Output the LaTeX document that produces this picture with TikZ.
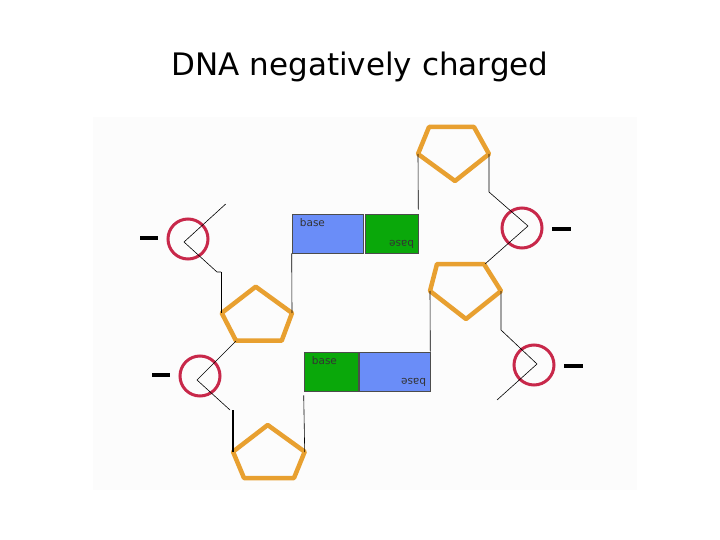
\documentclass[tikz,border=0pt]{standalone}
\usepackage{fontspec}
\setmainfont{DejaVu Sans}
\definecolor{pent}{HTML}{E8A030}
\definecolor{ring}{HTML}{C8284A}
\definecolor{bblue}{HTML}{6A8DF8}
\definecolor{bgreen}{HTML}{0AA80A}
\begin{document}
\begin{tikzpicture}[x=1pt,y=-1pt,
 pent/.style={draw=pent,line width=4.5pt,line join=round},
 ring/.style={draw=ring,line width=3pt},
 bbox/.style={draw=black!70,line width=0.6pt,minimum width=#1,minimum height=39pt,inner sep=0pt},
 thin/.style={line width=0.6pt},
 minus/.style={line width=4pt},
 lbl/.style={font=\fontsize{10.5}{10.5}\selectfont,inner sep=0pt,text=black!80}]
\useasboundingbox (0,0) rectangle (720,540);
\fill[black!1] (93,117) rectangle (637,490);
\node[font=\fontsize{31}{31}\selectfont] (title) at (360,67) {DNA negatively charged};
% pentagons
\draw[pent] (255.7,286.7) -- (292,313) -- (281.7,340.7) -- (236,340.7) -- (221.7,313) -- cycle;
\draw[pent] (267.7,425) -- (304.7,451.7) -- (294,478) -- (244,478) -- (233,451.7) -- cycle;
\draw[pent] (429,127) -- (474,127) -- (489,154) -- (455,181) -- (418,154) -- cycle;
\draw[pent] (437,264) -- (484,264) -- (501,291) -- (466,319) -- (430,291) -- cycle;
% circles
\node[ring,circle,minimum size=40pt,inner sep=0pt] (c1) at (188,239) {};
\node[ring,circle,minimum size=40pt,inner sep=0pt] (c2) at (200,376) {};
\node[ring,circle,minimum size=40pt,inner sep=0pt] (c3) at (522,228) {};
\node[ring,circle,minimum size=40pt,inner sep=0pt] (c4) at (534,365) {};
% minus
\draw[minus] (140,238) -- (158,238);
\draw[minus] (152,375) -- (170,375);
\draw[minus] (552,229) -- (571,229);
\draw[minus] (564,366) -- (583,366);
% boxes
\node[bbox=71pt,fill=bblue] (b1) at (327.5,233.5) {};
\node[bbox=53pt,fill=bgreen] (b2) at (391.5,233.5) {};
\node[bbox=54pt,fill=bgreen] (b3) at (331,371.5) {};
\node[bbox=71pt,fill=bblue] (b4) at (394.5,371.5) {};
\foreach \b in {b1,b3}{
 \node[lbl,anchor=north west] at ([shift={(8,5)}]\b.north west) {base};
}
\foreach \b in {b2,b4}{
 \node[lbl,anchor=north west,rotate=180] at ([shift={(-4,-5)}]\b.south east) {base};
}
% backbone lines
\draw[thin] (225.7,204) -- (184,242) -- (217,272) -- (221,272);
\draw[line width=1.5pt] (221.5,272) -- (221.5,313);
\draw[thin] (236,341) -- (197,380) -- (230,410);
\draw[line width=1.5pt] (233,410) -- (233,452);
\draw[thin] (292,313) -- (b1.south west);
\draw[thin] (b2.north east) ++(0,-4) -- (418,154);
\draw[thin] (489,154) -- (489,192) -- (528,226) -- (485,264);
\draw[thin] (501,291) -- (501,330) -- (537,364) -- (497,400);
\draw[thin] (b4.north east) -- (430,291);
\draw[thin] (b3.south west) ++(0,4) -- (304.7,452);
\end{tikzpicture}
\end{document}
